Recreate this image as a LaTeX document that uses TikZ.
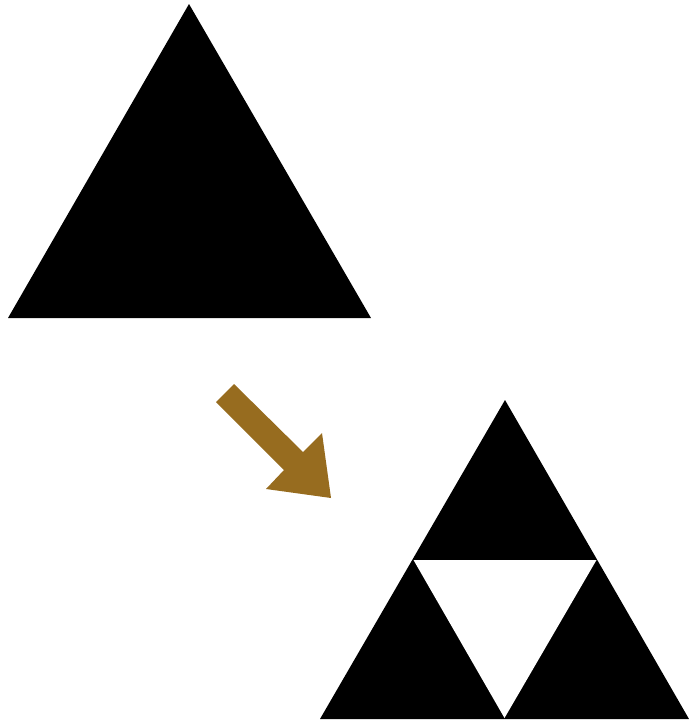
\documentclass[tikz,border=0pt]{standalone}
\definecolor{arrowbrown}{HTML}{976C1F}
\begin{document}
\begin{tikzpicture}[x=1pt,y=-1pt,
  tri/.style={fill=black},
  hole/.style={fill=white},
  bigarrow/.style={fill=arrowbrown}]
\useasboundingbox (0,0) rectangle (689,721);
% big triangle
\coordinate (A) at (189,4);
\coordinate (B) at (8,318);
\coordinate (C) at (371,318);
\fill[tri] (A) -- (B) -- (C) -- cycle;
% Sierpinski step
\coordinate (P) at (505,400);
\coordinate (Q) at (320,719);
\coordinate (R) at (689,719);
\fill[tri] (P) -- (Q) -- (R) -- cycle;
\coordinate (M1) at (413.5,560);
\coordinate (M2) at (596.5,560);
\coordinate (M3) at (504.5,718);
\fill[hole] (M1) -- (M2) -- (M3) -- cycle;
% arrow
\fill[bigarrow] (216,402) -- (234,384) -- (303,452) -- (322,433) -- (331,498) -- (266,489) -- (284,470) -- cycle;
\end{tikzpicture}
\end{document}
